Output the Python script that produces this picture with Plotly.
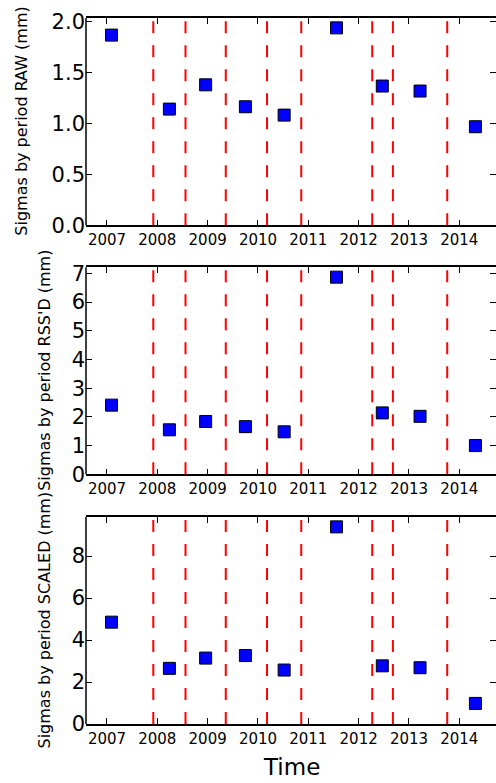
import plotly.graph_objects as go

# Period midpoints (decimal years) and per-period sigmas (mm)
period_mid = [2007.09, 2008.24, 2008.96, 2009.75, 2010.52, 2011.56, 2012.47, 2013.22, 2014.32]
sigma_raw = [1.866, 1.14, 1.378, 1.163, 1.081, 1.937, 1.366, 1.317, 0.967]
sigma_rssd = [2.41, 1.55, 1.84, 1.66, 1.48, 6.87, 2.14, 2.02, 1.00]
sigma_scaled = [4.85, 2.65, 3.14, 3.26, 2.57, 9.39, 2.77, 2.68, 0.98]

# Period boundaries (decimal years)
breaks = [2007.92, 2008.56, 2009.36, 2010.18, 2010.86, 2012.27, 2012.68, 2013.76]

year_ticks = [2007, 2008, 2009, 2010, 2011, 2012, 2013, 2014]

panels = [
    ("Sigmas by period RAW (mm)", sigma_raw, 0.5, ".1f", [0.7064, 1.0], -0.156),
    ("Sigmas by period RSS'D (mm)", sigma_rssd, 1, "d", [0.3537, 0.6469], -0.100),
    ("Sigmas by period SCALED (mm)", sigma_scaled, 2, "d", [0.0, 0.2932], -0.100),
]

FONT = "DejaVu Sans"
fig = go.Figure()
layout = dict(
    width=496, height=783,
    margin=dict(l=86, r=0, t=18, b=59),
    paper_bgcolor="white", plot_bgcolor="white",
    showlegend=False,
    shapes=[], annotations=[],
)

for i, (label, vals, dtick, fmt, dom, lab_x) in enumerate(panels, start=1):
    xa = "x" if i == 1 else f"x{i}"
    ya = "y" if i == 1 else f"y{i}"
    fig.add_trace(go.Scatter(
        x=period_mid, y=vals, mode="markers", xaxis=xa, yaxis=ya,
        marker=dict(symbol="square", size=12, color="#0000ff",
                    line=dict(color="black", width=1)),
    ))
    key_x = "xaxis" if i == 1 else f"xaxis{i}"
    key_y = "yaxis" if i == 1 else f"yaxis{i}"
    layout[key_x] = dict(
        domain=[0, 1], anchor=ya, range=[2006.583, 2014.729],
        tickvals=year_ticks, ticktext=[str(y) for y in year_ticks],
        ticks="inside", ticklen=6, tickwidth=1, tickcolor="black",
        showline=True, linecolor="black", linewidth=1.5, mirror="ticks",
        showgrid=False, zeroline=False,
        tickfont=dict(family=FONT, size=15, color="black"),
    )
    layout[key_y] = dict(
        domain=dom, anchor=xa, range=[0, 1.05 * max(vals)],
        dtick=dtick, tick0=0, tickformat=fmt,
        ticks="inside", ticklen=6, tickwidth=1, tickcolor="black",
        showline=False, mirror="ticks",
        showgrid=False, zeroline=False,
        tickfont=dict(family=FONT, size=21, color="black"),
    )
    # left spine only (right side stays open at the page edge)
    layout["shapes"].append(dict(
        type="line", xref=f"{xa} domain", yref=f"{ya} domain",
        x0=0, x1=0, y0=0, y1=1, line=dict(color="black", width=1.5),
    ))
    for b in breaks:
        layout["shapes"].append(dict(
            type="line", xref=xa, yref=f"{ya} domain",
            x0=b, x1=b, y0=0, y1=1,
            line=dict(color="red", width=2, dash="12px,12px"),
        ))
    layout["annotations"].append(dict(
        text=label, textangle=-90, showarrow=False,
        xref="paper", yref="paper", x=lab_x, y=(dom[0] + dom[1]) / 2,
        xanchor="center", yanchor="middle",
        font=dict(family=FONT, size=16, color="black"),
    ))

layout["annotations"].append(dict(
    text="Time", showarrow=False, xref="paper", yref="paper",
    x=0.5, y=-0.0614, xanchor="center", yanchor="middle",
    font=dict(family=FONT, size=23, color="black"),
))

fig.update_layout(**layout)
fig.write_html("out.html")
